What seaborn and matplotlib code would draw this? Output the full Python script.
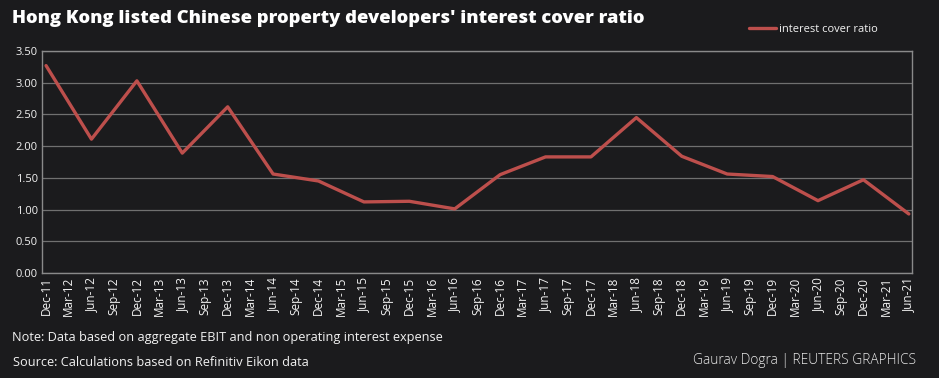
import pandas as pd
import seaborn as sns
import matplotlib.pyplot as plt

# quarterly axis labels
quarters = ['Dec-11', 'Mar-12', 'Jun-12', 'Sep-12', 'Dec-12', 'Mar-13', 'Jun-13', 'Sep-13',
            'Dec-13', 'Mar-14', 'Jun-14', 'Sep-14', 'Dec-14', 'Mar-15', 'Jun-15', 'Sep-15',
            'Dec-15', 'Mar-16', 'Jun-16', 'Sep-16', 'Dec-16', 'Mar-17', 'Jun-17', 'Sep-17',
            'Dec-17', 'Mar-18', 'Jun-18', 'Sep-18', 'Dec-18', 'Mar-19', 'Jun-19', 'Sep-19',
            'Dec-19', 'Mar-20', 'Jun-20', 'Sep-20', 'Dec-20', 'Mar-21', 'Jun-21']

# half-yearly observations
periods = ['Dec-11', 'Jun-12', 'Dec-12', 'Jun-13', 'Dec-13', 'Jun-14', 'Dec-14', 'Jun-15',
           'Dec-15', 'Jun-16', 'Dec-16', 'Jun-17', 'Dec-17', 'Jun-18', 'Dec-18', 'Jun-19',
           'Dec-19', 'Jun-20', 'Dec-20', 'Jun-21']
ratio = [3.27, 2.11, 3.03, 1.89, 2.62, 1.56, 1.45, 1.12, 1.13, 1.01,
         1.55, 1.83, 1.83, 2.45, 1.84, 1.56, 1.52, 1.14, 1.47, 0.93]

bg = '#1b1b1d'
red = '#bd4f4c'
grid = '#707070'
txt = '#f2f2f2'

df = pd.DataFrame({'period': periods, 'ratio': ratio})
df['pos'] = df['period'].map({q: i for i, q in enumerate(quarters)})

sns.set_style('dark')
plt.rcParams['font.family'] = ['Open Sans', 'DejaVu Sans']

fig = plt.figure(figsize=(9.39, 3.78), dpi=100, facecolor=bg)
ax = fig.add_axes([0.0447, 0.278, 0.9263, 0.587], facecolor=bg)

sns.lineplot(data=df, x='pos', y='ratio', ax=ax, color=red, linewidth=2.4,
             label='interest cover ratio', legend=False)

ax.set_xlim(-0.18, 38.13)
ax.set_ylim(0, 3.5)
ax.set_yticks([i * 0.5 for i in range(8)])
ax.set_yticklabels([f'{i * 0.5:.2f}' for i in range(8)], fontsize=8, color=txt)
ax.set_xticks(range(len(quarters)))
ax.set_xticklabels(quarters, rotation=90, fontsize=8.5, color=txt)
ax.tick_params(axis='both', length=0, pad=3)
ax.set_xlabel('')
ax.set_ylabel('')
ax.grid(axis='y', color=grid, linewidth=0.9)
ax.grid(axis='x', visible=False)
for s in ax.spines.values():
    s.set_visible(True)
    s.set_color('#8a8a8a')
    s.set_linewidth(1)

fig.text(0.013, 0.952, "Hong Kong listed Chinese property developers' interest cover ratio",
         fontsize=13.2, fontweight='heavy', color='white', va='center', ha='left')

leg = fig.legend(handles=ax.get_lines(), labels=['interest cover ratio'],
                 loc='center left', bbox_to_anchor=(0.787, 0.923), frameon=False,
                 fontsize=8, handlelength=2.4, handletextpad=0.3)
for t in leg.get_texts():
    t.set_color(txt)

fig.text(0.013, 0.108, 'Note: Data based on aggregate EBIT and non operating interest expense',
         fontsize=9.2, color=txt, va='center')
fig.text(0.014, 0.04, 'Source: Calculations based on Refinitiv Eikon data',
         fontsize=9.2, color=txt, va='center')
fig.text(0.975, 0.045, 'Gaurav Dogra | REUTERS GRAPHICS', fontsize=9.9, color='#e6e6e6',
         fontweight='light', va='center', ha='right')

fig.savefig('out.png', dpi=100, facecolor=bg)
